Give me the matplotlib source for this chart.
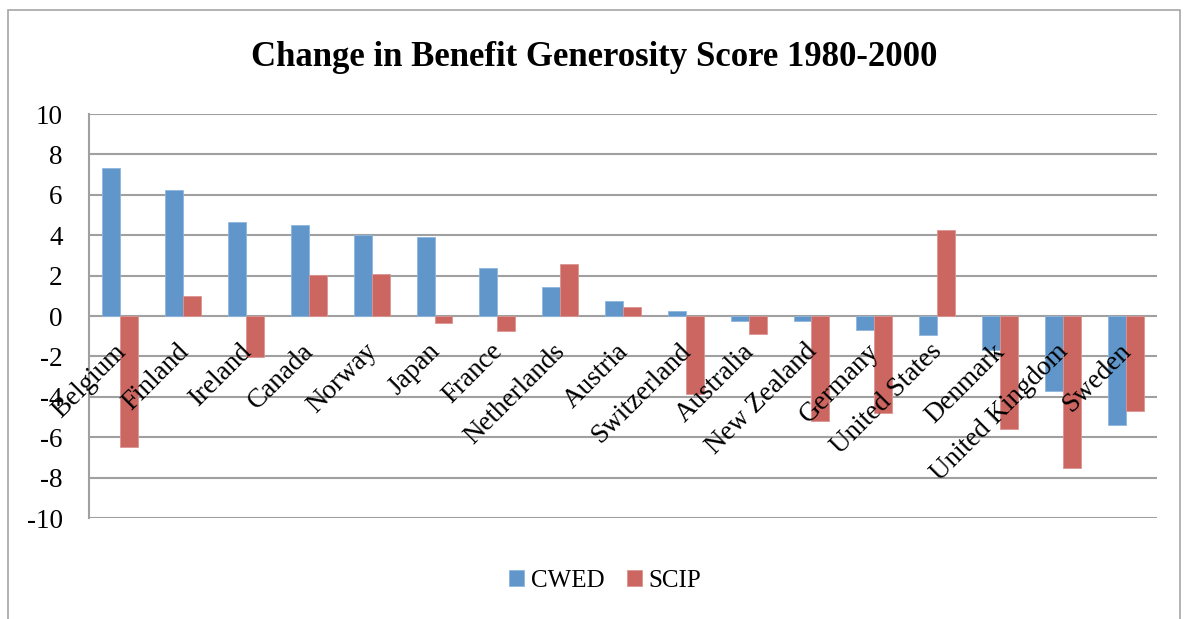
import matplotlib
matplotlib.use("Agg")
import matplotlib.pyplot as plt
import numpy as np
from matplotlib.patches import Rectangle

countries = ["Belgium", "Finland", "Ireland", "Canada", "Norway", "Japan", "France",
             "Netherlands", "Austria", "Switzerland", "Australia", "New Zealand",
             "Germany", "United States", "Denmark", "United Kingdom", "Sweden"]
cwed = [7.35, 6.24, 4.63, 4.51, 3.99, 3.90, 2.40, 1.43, 0.74, 0.27, -0.23, -0.23,
        -0.70, -0.94, -1.70, -3.70, -5.40]
scip = [-6.47, 0.99, -2.02, 2.03, 2.08, -0.33, -0.76, 2.59, 0.43, -3.84, -0.89, -5.20,
        -4.79, 4.28, -5.58, -7.51, -4.69]
yticks = [-10, -8, -6, -4, -2, 0, 2, 4, 6, 8, 10]
title = "Change in Benefit Generosity Score 1980-2000"

W, H = 1188, 619
fig = plt.figure(figsize=(W / 100, H / 100), dpi=100)
serif = ["Liberation Serif", "DejaVu Serif"]

# outer chart border
fig.patches.append(Rectangle((8 / W, -0.05), (1180 - 8) / W, (H - 10) / H + 0.05,
                             transform=fig.transFigure, fill=False,
                             edgecolor="#a6a6a6", linewidth=1.2))

L, R, T, B = 89, 1157, 114, 518
ax = fig.add_axes([L / W, 1 - B / H, (R - L) / W, (B - T) / H])
x = np.arange(len(countries))
bw = 1 / 3.5
ax.bar(x - bw / 2, cwed, width=bw, color="#6096CA", edgecolor="#8fb6dd",
       linewidth=0.6, label="CWED", zorder=3)
ax.bar(x + bw / 2, scip, width=bw, color="#CC6661", edgecolor="#dc9591",
       linewidth=0.6, label="SCIP", zorder=3)

ax.set_xlim(-0.5, len(countries) - 0.5)
ax.set_ylim(-10, 10)
ax.set_yticks(yticks)
ax.set_yticklabels([str(t) for t in yticks], fontfamily=serif, fontsize=19.5)
ax.tick_params(axis="y", length=0, pad=19)
ax.set_xticks([])
ax.grid(axis="y", color="#a0a0a0", linewidth=1.5, zorder=0)
for s in ["top", "right", "bottom"]:
    ax.spines[s].set_visible(False)
ax.spines["left"].set_color("#a0a0a0")
ax.spines["left"].set_linewidth(1.5)

for i, c in enumerate(countries):
    ax.annotate(c, xy=(i - 0.05, 0), xytext=(-3, -16.5), textcoords="offset points",
                ha="right", va="top", rotation=45, rotation_mode="anchor",
                fontfamily=serif, fontsize=19.5, zorder=5)

fig.text(0.5, 1 - 58 / H, title, ha="center", va="center", fontfamily=serif,
         fontsize=25, fontweight="bold")

leg = fig.legend(*ax.get_legend_handles_labels(), loc="center",
                 bbox_to_anchor=(605 / W, 1 - 581 / H),
                 ncol=2, frameon=False, prop={"family": serif, "size": 18},
                 handlelength=0.6, handleheight=0.6, handletextpad=0.25,
                 columnspacing=0.9, borderpad=0, borderaxespad=0)

fig.savefig("out.png", dpi=100)
